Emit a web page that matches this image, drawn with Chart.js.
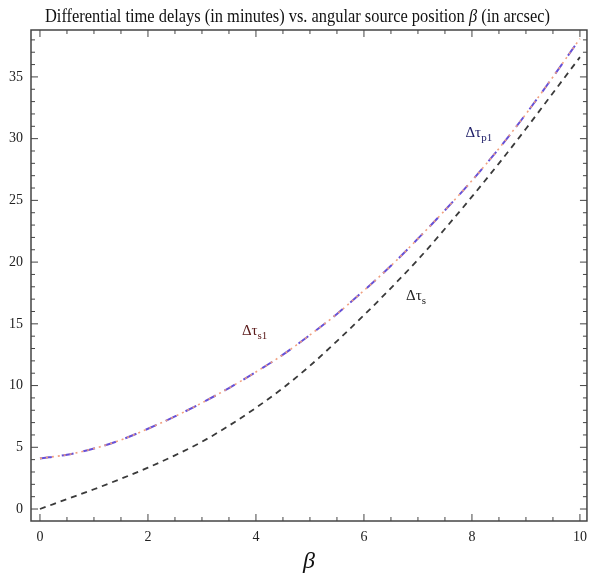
<!DOCTYPE html>
<html>
<head>
<meta charset="utf-8">
<script src="https://cdn.jsdelivr.net/npm/chart.js@4.4.1/dist/chart.umd.min.js"></script>
<style>
html,body{margin:0;padding:0;background:#fff;}
#wrap{width:595px;height:580px;}
</style>
</head>
<body>
<div id="wrap"><canvas id="c" width="595" height="580"></canvas></div>
<script>
const betaValues = [0,0.5,1,1.5,2,2.5,3,3.5,4,4.5,5,5.5,6,6.5,7,7.5,8,8.5,9,9.5,10];
const tauS1 = [4.1,4.4,4.9,5.6,6.5,7.5,8.6,9.8,11.1,12.5,14.1,15.8,17.7,19.7,21.9,24.2,26.6,29.2,32.0,35.0,38.1];
const tauP1 = [4.1,4.4,4.9,5.6,6.5,7.5,8.6,9.8,11.1,12.5,14.1,15.8,17.7,19.7,21.9,24.2,26.6,29.2,32.0,35.0,38.1];
const tauS  = [0,0.8,1.6,2.45,3.35,4.35,5.45,6.75,8.2,9.8,11.6,13.6,15.7,17.9,20.2,22.7,25.3,28.0,30.8,33.7,36.6];
const xTickLabels = [0,2,4,6,8,10];
const yTickLabels = [0,5,10,15,20,25,30,35];
const titleText = "Differential time delays (in minutes) vs. angular source position ";
const curveLabels = [
  {main:"\u0394\u03c4", sub:"p1", x:7.88, y:30.1, color:"#1c1c66"},
  {main:"\u0394\u03c4", sub:"s1", x:3.74, y:14.1, color:"#5a1a1a"},
  {main:"\u0394\u03c4", sub:"s",  x:6.78, y:16.9, color:"#222222"}
];

const pts = arr => betaValues.map((b,i)=>({x:b,y:arr[i]}));

const framePlugin = {
  id:'frame',
  afterDraw(chart){
    const {ctx, chartArea:a, scales:{x,y}} = chart;
    ctx.save();
    ctx.strokeStyle = '#444';
    ctx.lineWidth = 1.5;
    ctx.strokeRect(a.left, a.top, a.right-a.left, a.bottom-a.top);
    ctx.lineWidth = 1;
    ctx.beginPath();
    for(let v=0; v<=10.001; v+=0.5){
      const px = x.getPixelForValue(v);
      const major = Math.abs(v/2-Math.round(v/2))<1e-6;
      const L = major?7:4;
      ctx.moveTo(px,a.bottom); ctx.lineTo(px,a.bottom-L);
      ctx.moveTo(px,a.top); ctx.lineTo(px,a.top+L);
    }
    for(let v=0; v<=38; v+=1){
      const py = y.getPixelForValue(v);
      const major = v%5===0;
      const L = major?7:4;
      ctx.moveTo(a.left,py); ctx.lineTo(a.left+L,py);
      ctx.moveTo(a.right,py); ctx.lineTo(a.right-L,py);
    }
    ctx.stroke();
    // title
    ctx.fillStyle = '#111';
    ctx.textBaseline = 'alphabetic';
    ctx.font = '18px "Liberation Serif"';
    const w1 = ctx.measureText(titleText).width;
    ctx.font = 'italic 18px "Liberation Serif"';
    const wb = ctx.measureText('\u03b2').width;
    ctx.font = '18px "Liberation Serif"';
    const w3 = ctx.measureText(' (in arcsec)').width;
    const total = w1+wb+w3;
    const sx = Math.min(1, 505/total);
    ctx.save();
    ctx.translate(297.5 - total*sx/2, 22);
    ctx.scale(sx,1);
    ctx.textAlign='left';
    ctx.fillText(titleText,0,0);
    ctx.font = 'italic 18px "Liberation Serif"';
    ctx.fillText('\u03b2',w1,0);
    ctx.font = '18px "Liberation Serif"';
    ctx.fillText(' (in arcsec)',w1+wb,0);
    ctx.restore();
    // curve labels
    curveLabels.forEach(l=>{
      const px = x.getPixelForValue(l.x), py = y.getPixelForValue(l.y);
      ctx.fillStyle = l.color;
      ctx.font = '15px "Liberation Serif"';
      ctx.textAlign='left';
      ctx.fillText(l.main, px, py);
      const mw = ctx.measureText(l.main).width;
      ctx.font = '11px "Liberation Serif"';
      ctx.fillText(l.sub, px+mw, py+4);
    });
    ctx.restore();
  }
};

new Chart(document.getElementById('c'), {
  type:'line',
  data:{
    datasets:[
      {label:'tauS', data:pts(tauS), borderColor:'#3a3a3a', borderWidth:1.8, borderDash:[6,5], pointRadius:0, cubicInterpolationMode:'monotone', fill:false},
      {label:'tauP1', data:pts(tauP1), borderColor:'#f0a080', borderWidth:1.6, borderDash:[2,4], pointRadius:0, cubicInterpolationMode:'monotone', fill:false},
      {label:'tauS1', data:pts(tauS1), borderColor:'#6650d8', borderWidth:2, borderDash:[12,10], pointRadius:0, cubicInterpolationMode:'monotone', fill:false}
    ]
  },
  options:{
    responsive:false,
    animation:false,
    layout:{padding:{top:30,right:5,left:0,bottom:0}},
    plugins:{legend:{display:false}, title:{display:false}, tooltip:{enabled:false}},
    scales:{
      x:{
        type:'linear', min:-0.166, max:10.13,
        grid:{display:false, drawTicks:false},
        border:{display:false},
        afterBuildTicks(s){ s.ticks = xTickLabels.map(v=>({value:v})); },
        afterFit(s){ s.height = 59; },
        ticks:{font:{family:'Liberation Serif', size:14}, color:'#222', padding:8, maxRotation:0},
        title:{display:true, text:'\u03b2', font:{family:'Liberation Serif', size:24, style:'italic'}, color:'#111', padding:{top:4}}
      },
      y:{
        type:'linear', min:-0.97, max:38.8,
        grid:{display:false, drawTicks:false},
        border:{display:false},
        afterBuildTicks(s){ s.ticks = yTickLabels.map(v=>({value:v})); },
        afterFit(s){ s.width = 31; },
        ticks:{font:{family:'Liberation Serif', size:14}, color:'#222', padding:8}
      }
    }
  },
  plugins:[framePlugin]
});
</script>
</body>
</html>
